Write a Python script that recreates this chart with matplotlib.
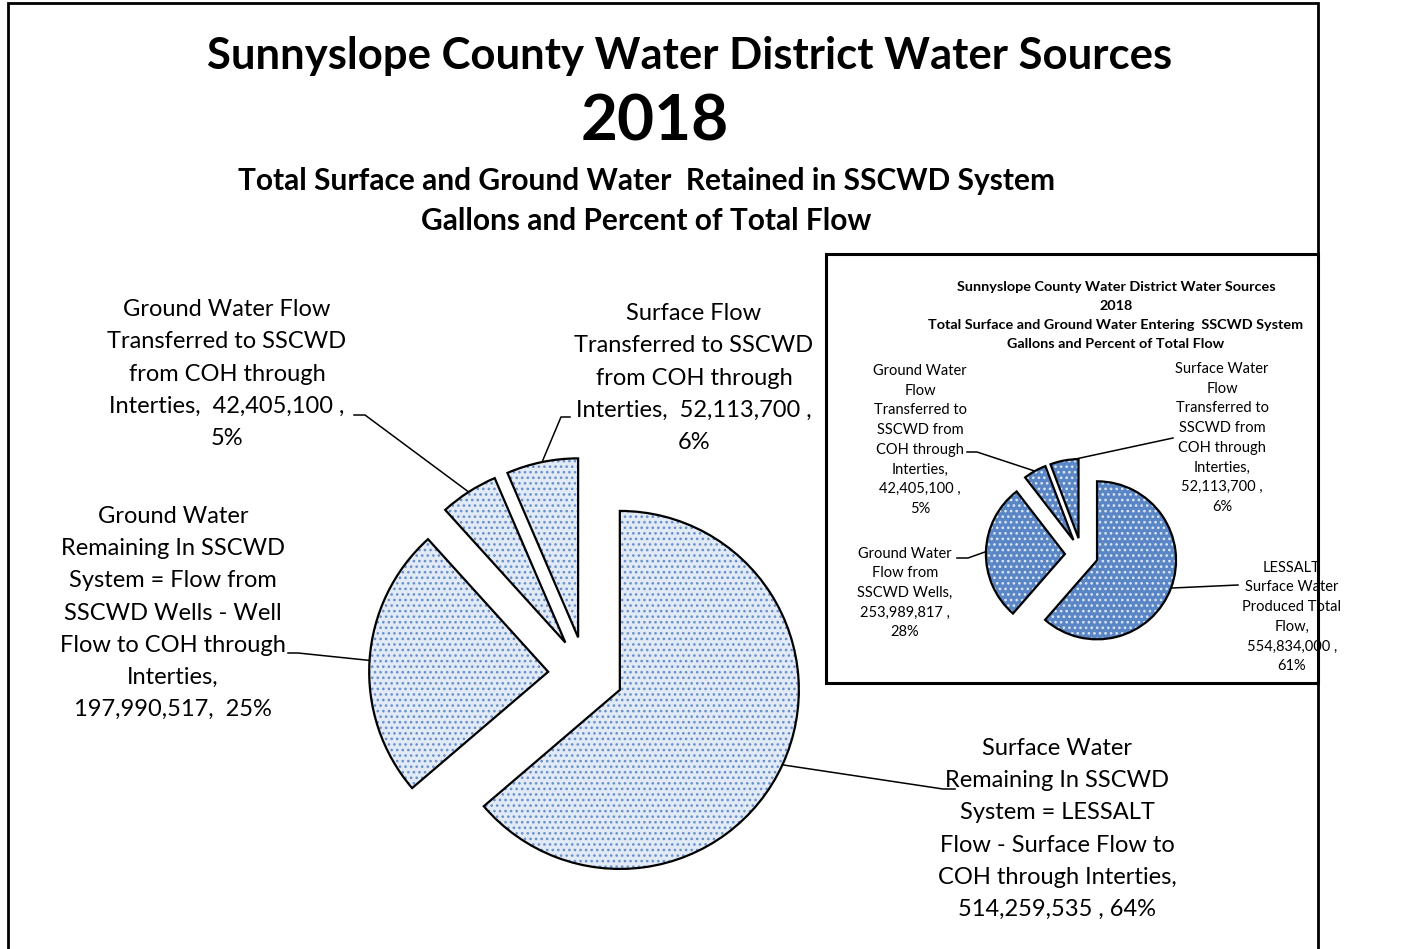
import numpy as np
import matplotlib
matplotlib.use("Agg")
import matplotlib.pyplot as plt
from matplotlib.patches import Rectangle

W, H = 1409, 949

# main chart: water retained in the SSCWD system, gallons (clockwise from 12 o'clock)
main_values = [514259535, 197990517, 42405100, 52113700]
main_labels = [
    "Surface Water\nRemaining In SSCWD\nSystem = LESSALT\nFlow - Surface Flow to\nCOH through Interties,\n{v} , {p}%",
    "Ground Water\nRemaining In SSCWD\nSystem = Flow from\nSSCWD Wells - Well\nFlow to COH through\nInterties,\n{v},  {p}%",
    "Ground Water Flow\nTransferred to SSCWD\nfrom COH through\nInterties,  {v} ,\n{p}%",
    "Surface Flow\nTransferred to SSCWD\nfrom COH through\nInterties,  {v} ,\n{p}%",
]

# inset chart: water entering the SSCWD system, gallons
inset_values = [554834000, 253989817, 42405100, 52113700]
inset_labels = [
    "LESSALT\nSurface Water\nProduced Total\nFlow,\n{v} ,\n{p}%",
    "Ground Water\nFlow from\nSSCWD Wells,\n{v} ,\n{p}%",
    "Ground Water\nFlow\nTransferred to\nSSCWD from\nCOH through\nInterties,\n{v} ,\n{p}%",
    "Surface Water\nFlow\nTransferred to\nSSCWD from\nCOH through\nInterties,\n{v} ,\n{p}%",
]

main_title = "Sunnyslope County Water District Water Sources"
main_year = "2018"
main_sub = "Total Surface and Ground Water  Retained in SSCWD System\nGallons and Percent of Total Flow"
inset_title = ("Sunnyslope County Water District Water Sources\n2018\n"
               "Total Surface and Ground Water Entering  SSCWD System\nGallons and Percent of Total Flow")

plt.rcParams['font.family'] = ['Lato', 'DejaVu Sans']
plt.rcParams['hatch.linewidth'] = 1.1

fig = plt.figure(figsize=(W / 100, H / 100), dpi=100)
ax = fig.add_axes([0, 0, 1, 1])


def Y(y):
    # picture rows run downwards, data y runs upwards
    return H - y


def draw_pie(values, center, radius, face, dots, zo):
    n = len(values)
    kw = dict(startangle=90, counterclock=False, explode=[0.21 * radius] * n,
              center=center, radius=radius)
    ax.pie(values, colors=[face] * n, hatch='...',
           wedgeprops=dict(edgecolor=dots, linewidth=0, zorder=zo), **kw)
    wedges, _ = ax.pie(values, colors=['none'] * n,
                       wedgeprops=dict(edgecolor='black', linewidth=1.6, zorder=zo + 0.1), **kw)
    return wedges


def arc_point(w, frac=0.5):
    t = np.deg2rad(w.theta1 + frac * (w.theta2 - w.theta1))
    return w.center[0] + w.r * np.cos(t), w.center[1] + w.r * np.sin(t)


def leader(points, w, frac, zo):
    xs = [p[0] for p in points]
    ys = [Y(p[1]) for p in points]
    x, y = arc_point(w, frac)
    ax.plot(xs + [x], ys + [y], color='black', lw=1.1, zorder=zo)


def pct(vals):
    return [round(100 * v / sum(vals)) for v in vals]


# outer chart frame
ax.add_patch(Rectangle((8, Y(1000)), 1310, 1000 - 3, fill=False, ec='black', lw=2, zorder=0.5))

# titles
ax.text(690, Y(56), main_title, ha='center', va='center', fontsize=31.4, fontweight='bold')
ax.text(655, Y(122), main_year, ha='center', va='center', fontsize=46, fontweight='bold')
ax.text(646, Y(201), main_sub, ha='center', va='center', fontsize=21.5, fontweight='bold',
        linespacing=1.55)

# main pie
main_w = draw_pie(main_values, (585.7, Y(674.2)), 179, '#e2eaf6', '#6890cb', 1)
main_pos = [(1057, 829), (173, 613), (227, 374), (694, 378)]
main_lead = [[(955, 789), (943, 789)], [(288, 653), (298, 653)],
             [(354, 415), (365, 415)], [(570, 417), (561, 417)]]
for w, fmt, v, p, pos, pts in zip(main_w, main_labels, main_values, pct(main_values),
                                  main_pos, main_lead):
    ax.text(pos[0], Y(pos[1]), fmt.format(v=f"{v:,}", p=p), ha='center', va='center',
            fontsize=17, linespacing=1.65, zorder=3)
    leader(pts, w, 0.5, 2)

# inset chart
ax.add_patch(Rectangle((826, Y(683)), 492, 683 - 254, fc='white', ec='black', lw=2.2, zorder=4))
ax.text(1116, Y(315), inset_title, ha='center', va='center', fontsize=10.4, fontweight='bold',
        linespacing=1.7, zorder=5)
inset_w = draw_pie(inset_values, (1081.5, Y(554.5)), 79, '#5a86c5', '#dce6f4', 5)
inset_pos = [(1292, 617), (905, 593), (920, 440), (1222, 438)]
inset_lead = [[(1238, 585)], [(957, 558), (968, 558)], [(967, 452), (977, 452)], [(1173, 438)]]
inset_frac = [0.5, 0.5, 0.5, 0.15]
for w, fmt, v, p, pos, pts, fr in zip(inset_w, inset_labels, inset_values, pct(inset_values),
                                      inset_pos, inset_lead, inset_frac):
    ax.text(pos[0], Y(pos[1]), fmt.format(v=f"{v:,}", p=p), ha='center', va='center',
            fontsize=10.5, linespacing=1.52, zorder=6)
    leader(pts, w, fr, 5.5)

ax.set_xlim(0, W)
ax.set_ylim(0, H)
ax.set_aspect('equal')
ax.set_axis_off()

fig.savefig("out.png", dpi=100, facecolor='white')
